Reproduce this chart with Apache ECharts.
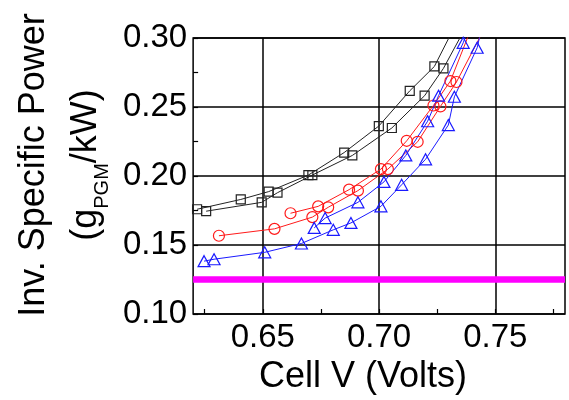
<!DOCTYPE html>
<html>
<head>
<meta charset="utf-8">
<script src="https://cdn.jsdelivr.net/npm/echarts@6/dist/echarts.min.js"></script>
<style>
  html, body { margin: 0; padding: 0; background: #fff; }
  #chart { width: 569px; height: 400px; }
</style>
</head>
<body>
<div id="chart"></div>
<script>
// two scans per loading: cell voltage (V) vs inverse specific power (g_PGM/kW)
const blackV1 = [0.6217, 0.6405, 0.6525, 0.6696, 0.6850, 0.6999, 0.7132, 0.7238, 0.7328]
const blackP1 = [0.1759, 0.1830, 0.1887, 0.2007, 0.2170, 0.2362, 0.2617, 0.2794, 0.3092]
const blackV2 = [0.6256, 0.6495, 0.6563, 0.6713, 0.6885, 0.7055, 0.7196, 0.7277, 0.7384]
const blackP2 = [0.1745, 0.1809, 0.1879, 0.2007, 0.2149, 0.2348, 0.2582, 0.2780, 0.3113]

const redV1 = [0.6619, 0.6738, 0.6871, 0.7008, 0.7119, 0.7234, 0.7307, 0.7397]
const redP1 = [0.1730, 0.1780, 0.1901, 0.2050, 0.2255, 0.2511, 0.2688, 0.3071]
const redV2 = [0.6311, 0.6550, 0.6713, 0.6781, 0.6909, 0.7038, 0.7166, 0.7264, 0.7333, 0.7452]
const redP2 = [0.1567, 0.1617, 0.1702, 0.1773, 0.1894, 0.2050, 0.2248, 0.2504, 0.2681, 0.3064]

const blueV1 = [0.6721, 0.6768, 0.6909, 0.7021, 0.7115, 0.7209, 0.7256, 0.7362, 0.7384]
const blueP1 = [0.1624, 0.1695, 0.1809, 0.1957, 0.2149, 0.2397, 0.2582, 0.2965, 0.3071]
const blueV2 = [0.6247, 0.6290, 0.6508, 0.6666, 0.6803, 0.6879, 0.7008, 0.7097, 0.7200, 0.7298, 0.7324, 0.7422, 0.7445]
const blueP2 = [0.1383, 0.1397, 0.1447, 0.1511, 0.1610, 0.1660, 0.1780, 0.1936, 0.2121, 0.2369, 0.2574, 0.2929, 0.3100]

// target line
const targetV = [0.62, 0.78]
const targetP = [0.125, 0.125]

const xTicks = [0.625, 0.65, 0.675, 0.70, 0.725, 0.75, 0.775]
const xLabels = [0.65, 0.70, 0.75]

const font = '"Liberation Sans", Arial, sans-serif'

const scan = (name, xs, ys, color, symbol, size) => ({
  name,
  type: 'line',
  data: xs.map((v, i) => [v, ys[i]]),
  symbol,
  symbolSize: size,
  clip: true,
  z: 3,
  lineStyle: { color, width: 1 },
  itemStyle: { color: 'rgba(0,0,0,0)', borderColor: color, borderWidth: 1.2 }
})

const chart = echarts.init(document.getElementById('chart'))

chart.setOption({
  animation: false,
  grid: {
    left: 191, right: 4, top: 38, bottom: 80,
    show: true, borderColor: '#000', borderWidth: 1.5, backgroundColor: 'transparent'
  },
  xAxis: [
    {
      type: 'value', min: 0.62, max: 0.78,
      axisLine: { show: false },
      axisTick: { inside: true, length: 5, customValues: xTicks, lineStyle: { color: '#000', width: 1.2 } },
      axisLabel: {
        customValues: xLabels, formatter: v => v.toFixed(2),
        fontSize: 33, color: '#000', fontFamily: font, margin: 7
      },
      splitLine: { show: false },
      name: 'Cell V (Volts)',
      nameLocation: 'middle',
      nameGap: 45,
      nameTextStyle: { fontSize: 36, color: '#000', fontFamily: font, padding: [0, 32, 0, 0] }
    },
    {
      type: 'value', min: 0.62, max: 0.78, position: 'top',
      axisLine: { show: false },
      axisTick: { show: false, customValues: xLabels },
      axisLabel: { show: false },
      splitLine: { show: true, lineStyle: { color: '#000', width: 1.5 } }
    }
  ],
  yAxis: {
    type: 'value', min: 0.10, max: 0.30, interval: 0.05,
    axisLine: { show: false },
    axisTick: { inside: true, length: 5, lineStyle: { color: '#000', width: 1.2 } },
    minorTick: { show: true, splitNumber: 2, length: 5, lineStyle: { color: '#000', width: 1.2 } },
    axisLabel: { formatter: v => v.toFixed(2), fontSize: 33, color: '#000', fontFamily: font, margin: 6 },
    splitLine: { show: true, lineStyle: { color: '#000', width: 1.5 } },
    name: 'Inv. Specific Power\n(g{sub|PGM}/kW)',
    nameLocation: 'middle',
    nameRotate: 90,
    nameGap: 78,
    nameTextStyle: {
      fontSize: 36, lineHeight: 52, color: '#000', fontFamily: font,
      padding: [0, 0, 0, 22],
      rich: {
        sub: { fontSize: 20, lineHeight: 34, verticalAlign: 'bottom', color: '#000', fontFamily: font }
      }
    }
  },
  series: [
    {
      name: 'target', type: 'line',
      data: targetV.map((v, i) => [v, targetP[i]]),
      symbol: 'none', z: 2,
      lineStyle: { color: '#ff00ff', width: 6.5 }
    },
    scan('black scan 1', blackV1, blackP1, '#222', 'rect', 9),
    scan('black scan 2', blackV2, blackP2, '#222', 'rect', 9),
    scan('red scan 1', redV1, redP1, '#ff1a1a', 'circle', 11),
    scan('red scan 2', redV2, redP2, '#ff1a1a', 'circle', 11),
    scan('blue scan 1', blueV1, blueP1, '#1a1aff', 'triangle', [12, 11]),
    scan('blue scan 2', blueV2, blueP2, '#1a1aff', 'triangle', [12, 11])
  ]
})

window.addEventListener('resize', () => chart.resize())
</script>
</body>
</html>
